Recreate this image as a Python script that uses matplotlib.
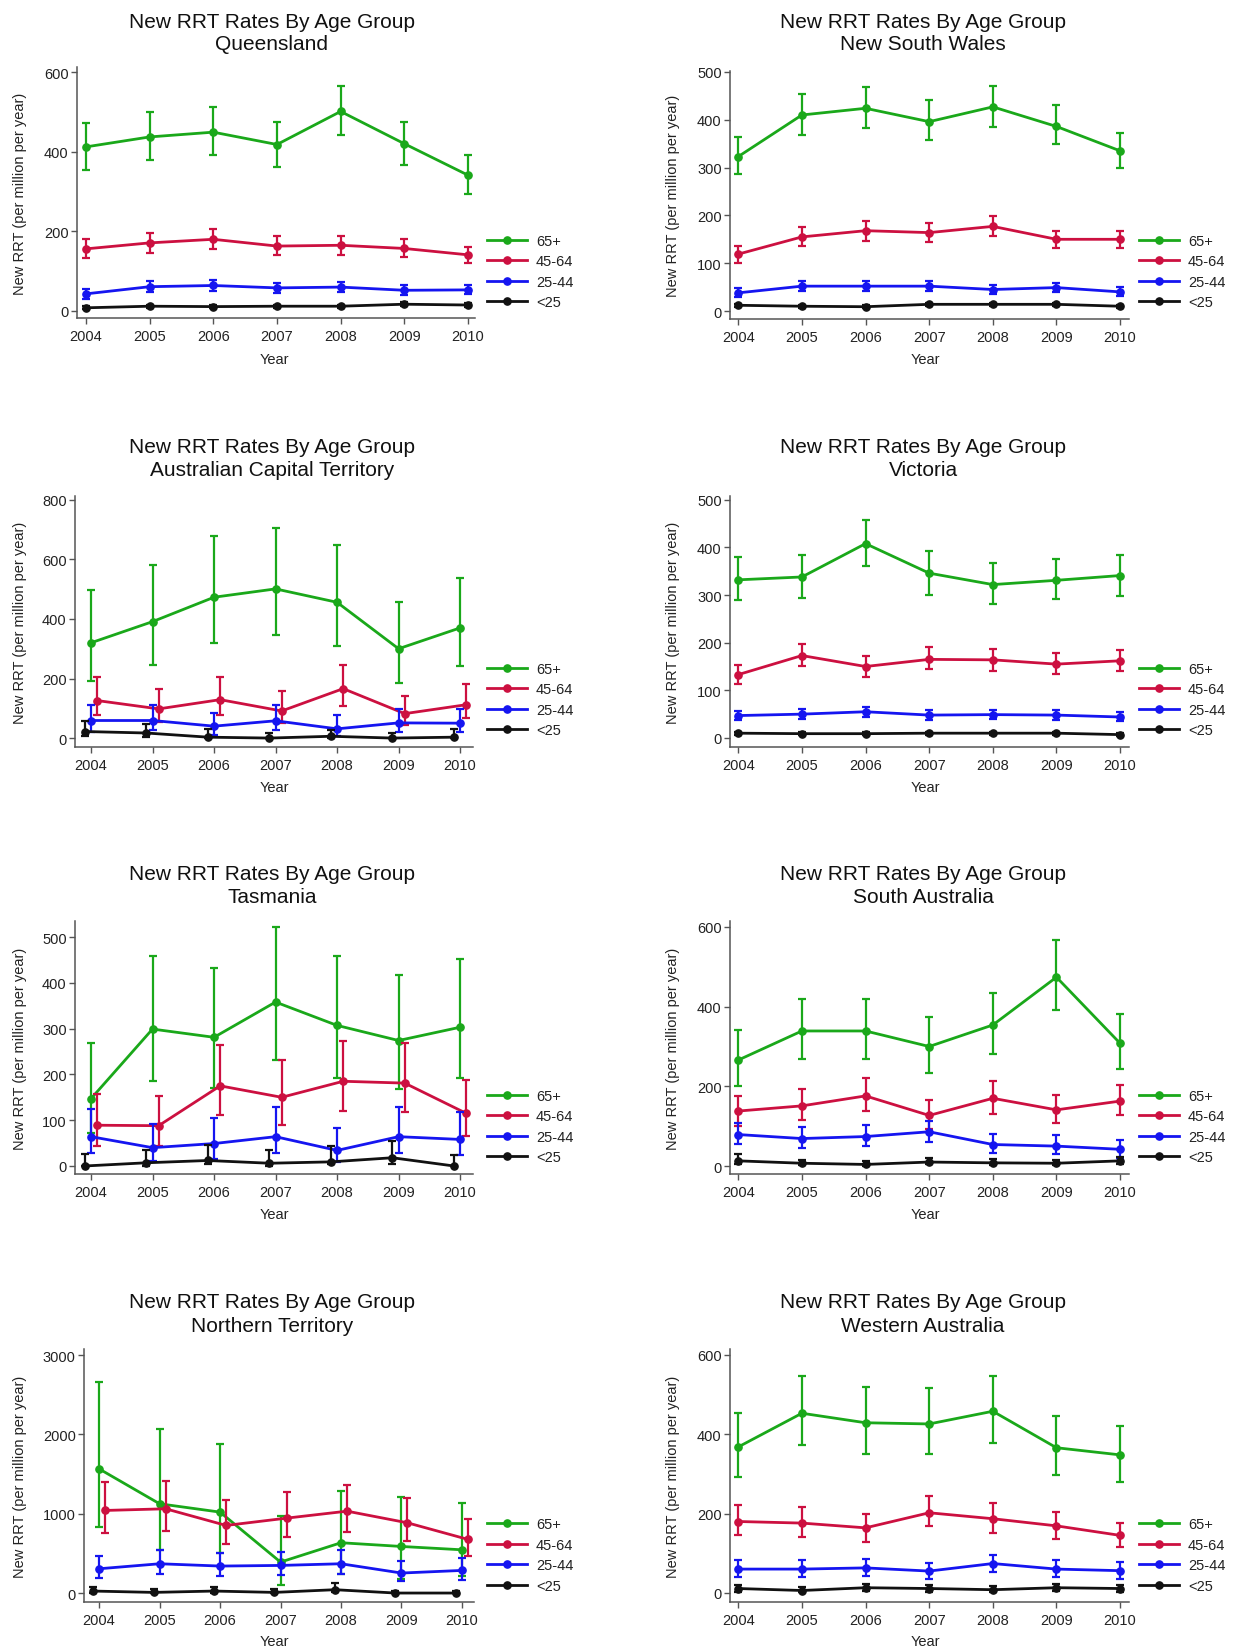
import matplotlib
matplotlib.use("Agg")
import matplotlib.pyplot as plt
from matplotlib.lines import Line2D

plt.rcParams["font.family"] = ["Liberation Sans", "DejaVu Sans"]

years = [2004, 2005, 2006, 2007, 2008, 2009, 2010]
groups = ["65+", "45-64", "25-44", "<25"]
colors = ["#1aa81a", "#cc1040", "#1515f0", "#111111"]

# rates and 95% CI per state, one row per age group (65+, 45-64, 25-44, <25)
qld_rate = [[412, 437, 449, 418, 501, 420, 341],
            [156, 171, 180, 163, 165, 157, 141],
            [43, 61, 64, 58, 60, 52, 53],
            [8, 12, 11, 12, 12, 17, 15]]
qld_lo = [[353, 379, 392, 361, 442, 367, 294],
          [133, 145, 155, 141, 141, 136, 120],
          [31, 48, 51, 46, 48, 41, 42],
          [4, 8, 7, 8, 8, 12, 11]]
qld_hi = [[471, 500, 513, 474, 564, 475, 392],
          [180, 197, 207, 188, 188, 180, 161],
          [56, 75, 78, 71, 73, 64, 65],
          [12, 16, 15, 16, 16, 22, 19]]

nsw_rate = [[323, 410, 424, 396, 427, 386, 335],
            [119, 155, 168, 164, 177, 150, 150],
            [38, 52, 52, 52, 45, 49, 40],
            [12, 10, 9, 14, 14, 14, 10]]
nsw_lo = [[287, 369, 383, 357, 385, 350, 299],
          [101, 136, 147, 145, 156, 131, 131],
          [29, 42, 42, 42, 36, 40, 31],
          [8, 7, 6, 10, 10, 10, 7]]
nsw_hi = [[364, 453, 469, 441, 471, 431, 373],
          [136, 176, 189, 185, 198, 168, 168],
          [48, 62, 62, 62, 55, 59, 50],
          [15, 13, 12, 17, 17, 17, 13]]

act_rate = [[320, 391, 473, 501, 456, 300, 370],
            [126, 98, 129, 91, 166, 82, 112],
            [59, 59, 40, 58, 31, 51, 50],
            [22, 17, 3, 0, 6, 0, 3]]
act_lo = [[191, 247, 320, 345, 308, 186, 242],
          [76, 54, 78, 51, 107, 43, 67],
          [22, 26, 11, 26, 7, 20, 20],
          [7, 3, 0, 0, 0, 0, 0]]
act_hi = [[498, 582, 677, 705, 647, 456, 537],
          [205, 166, 205, 157, 244, 141, 182],
          [110, 110, 85, 110, 76, 96, 96],
          [56, 48, 31, 18, 26, 18, 29]]

vic_rate = [[332, 338, 408, 346, 322, 331, 341],
            [133, 173, 150, 165, 164, 155, 162],
            [47, 50, 55, 48, 49, 48, 44],
            [10, 9, 9, 10, 10, 10, 7]]
vic_lo = [[289, 294, 362, 301, 282, 291, 299],
          [113, 151, 128, 144, 141, 134, 140],
          [37, 40, 45, 38, 39, 38, 35],
          [7, 6, 6, 7, 7, 7, 4]]
vic_hi = [[380, 385, 458, 392, 368, 375, 385],
          [154, 198, 173, 190, 187, 178, 185],
          [57, 60, 66, 58, 59, 58, 54],
          [13, 12, 12, 13, 13, 13, 10]]

tas_rate = [[147, 299, 281, 358, 307, 274, 303],
            [89, 88, 175, 150, 185, 181, 115],
            [64, 40, 49, 64, 34, 64, 58],
            [0, 7, 12, 6, 9, 18, 0]]
tas_lo = [[72, 185, 170, 232, 193, 169, 193],
          [44, 44, 112, 90, 119, 117, 66],
          [28, 11, 16, 28, 9, 28, 23],
          [0, 1, 4, 1, 4, 4, 0]]
tas_hi = [[269, 459, 433, 522, 459, 417, 452],
          [158, 153, 264, 231, 272, 268, 188],
          [124, 91, 104, 128, 82, 128, 117],
          [26, 34, 46, 36, 44, 55, 23]]

sa_rate = [[266, 339, 339, 300, 354, 474, 308],
           [138, 151, 176, 127, 170, 141, 163],
           [79, 69, 74, 86, 54, 50, 42],
           [13, 7, 4, 10, 8, 7, 13]]
sa_lo = [[201, 268, 268, 234, 282, 391, 243],
         [100, 115, 138, 92, 131, 107, 128],
         [56, 46, 50, 61, 32, 29, 21],
         [4, 2, 1, 4, 3, 2, 5]]
sa_hi = [[341, 420, 420, 375, 435, 567, 382],
         [177, 194, 221, 165, 213, 178, 204],
         [109, 98, 102, 113, 81, 78, 65],
         [29, 16, 12, 20, 17, 16, 23]]

nt_rate = [[1565, 1125, 1020, 390, 634, 587, 545],
           [1041, 1062, 852, 944, 1032, 885, 676],
           [306, 369, 340, 348, 369, 252, 285],
           [25, 8, 25, 8, 42, 0, 0]]
nt_lo = [[831, 537, 504, 97, 243, 180, 210],
         [760, 781, 613, 705, 768, 650, 466],
         [189, 243, 214, 231, 243, 147, 168],
         [0, 0, 0, 0, 13, 0, 0]]
nt_hi = [[2656, 2069, 1880, 969, 1292, 1208, 1133],
         [1397, 1418, 1167, 1272, 1364, 1196, 927],
         [462, 537, 508, 516, 537, 399, 441],
         [76, 55, 76, 46, 126, 25, 21]]

wa_rate = [[368, 453, 429, 426, 458, 366, 348],
           [180, 176, 164, 202, 187, 169, 145],
           [60, 60, 63, 55, 74, 60, 56],
           [11, 6, 13, 11, 8, 13, 11]]
wa_lo = [[292, 372, 351, 351, 378, 298, 279],
         [145, 141, 128, 168, 151, 137, 116],
         [39, 39, 42, 36, 53, 39, 36],
         [3, 1, 5, 3, 2, 5, 3]]
wa_hi = [[453, 546, 519, 516, 546, 446, 422],
         [221, 216, 200, 244, 227, 204, 177],
         [82, 82, 85, 76, 96, 82, 78],
         [21, 15, 23, 21, 17, 23, 21]]

W, H = 1234, 1649
fig = plt.figure(figsize=(W / 100, H / 100), dpi=100)

# (state, data, axes box l r t b in px, ylim, ytick step, xlim, jitter, column, row)
panels = [
    ("Queensland", (qld_rate, qld_lo, qld_hi), (77, 475, 68, 319), (-17.6, 612.6), 200, (2003.86, 2010.11), False, 0, 0),
    ("New South Wales", (nsw_rate, nsw_lo, nsw_hi), (730, 1129, 72, 320), (-16.7, 502), 100, (2003.87, 2010.14), False, 1, 0),
    ("Australian Capital Territory", (act_rate, act_lo, act_hi), (75, 473, 497, 748), (-30, 813), 200, (2003.74, 2010.21), True, 0, 1),
    ("Victoria", (vic_rate, vic_lo, vic_hi), (730, 1129, 497, 748), (-19, 508), 100, (2003.87, 2010.14), False, 1, 1),
    ("Tasmania", (tas_rate, tas_lo, tas_hi), (75, 473, 922, 1175), (-17.5, 535), 100, (2003.74, 2010.21), True, 0, 2),
    ("South Australia", (sa_rate, sa_lo, sa_hi), (730, 1129, 922, 1175), (-20, 615), 200, (2003.87, 2010.14), False, 1, 2),
    ("Northern Territory", (nt_rate, nt_lo, nt_hi), (84, 474, 1350, 1603), (-113, 3076), 1000, (2003.75, 2010.2), True, 0, 3),
    ("Western Australia", (wa_rate, wa_lo, wa_hi), (730, 1129, 1350, 1603), (-23, 615), 200, (2003.87, 2010.14), False, 1, 3),
]

title_y = [(22, 44), (448, 470), (875, 898), (1303, 1326)]
legend_y = [272.5, 700.5, 1127.5, 1556]
year_y = [360, 788, 1215, 1642]
col_title_x = [272, 923]
col_ylabel_x = [20, 673]
col_legend_x = [487, 1139]
col_year_x = [274, 925]

fs = 10.5
spine_col = "#555555"

for state, (rate, lo, hi), (l, r, t, b), ylim, ystep, xlim, jitter, col, row in panels:
    ax = fig.add_axes([l / W, 1 - b / H, (r - l) / W, (b - t) / H])
    offsets = [0, 0.1, 0, -0.1] if jitter else [0, 0, 0, 0]
    for k in range(4):
        xs = [y + offsets[k] for y in years]
        yerr = [[rate[k][i] - lo[k][i] for i in range(7)],
                [hi[k][i] - rate[k][i] for i in range(7)]]
        ax.errorbar(xs, rate[k], yerr=yerr, color=colors[k], lw=2.0, marker="o", ms=5.2,
                    elinewidth=1.6, capsize=3, capthick=1.6, zorder=3 + k)
    ax.set_xlim(*xlim)
    ax.set_ylim(*ylim)
    ax.set_xticks(years)
    ax.set_yticks(list(range(0, int(ylim[1]) + 1, ystep)))
    for s in ["top", "right"]:
        ax.spines[s].set_visible(False)
    for s in ["left", "bottom"]:
        ax.spines[s].set_color(spine_col)
        ax.spines[s].set_linewidth(1.1)
    ax.tick_params(axis="both", direction="out", length=4.5, width=1, color=spine_col,
                   labelsize=fs, labelcolor="#222222")
    ax.tick_params(axis="x", pad=3.5)
    ax.tick_params(axis="y", pad=1.5)
    ax.patch.set_alpha(0)

    ty1, ty2 = title_y[row]
    fig.text(col_title_x[col] / W, 1 - ty1 / H, "New RRT Rates By Age Group", ha="center", va="center",
             fontsize=15, color="#111111")
    fig.text(col_title_x[col] / W, 1 - ty2 / H, state, ha="center", va="center", fontsize=15, color="#111111")
    fig.text(col_year_x[col] / W, 1 - year_y[row] / H, "Year", ha="center", va="center", fontsize=fs,
             color="#222222")
    fig.text(col_ylabel_x[col] / W, 1 - (t + b) / 2 / H, "New RRT (per million per year)", rotation=90,
             ha="center", va="center", fontsize=fs, color="#222222")

    handles = [Line2D([0], [0], color=colors[k], lw=2.0, marker="o", ms=5.2) for k in range(4)]
    ax.legend(handles, groups, loc="center left",
              bbox_to_anchor=(col_legend_x[col] / W, 1 - legend_y[row] / H),
              bbox_transform=fig.transFigure, frameon=False, fontsize=fs,
              handlelength=2.75, handletextpad=0.6, labelspacing=0.45,
              borderpad=0, borderaxespad=0, labelcolor="#222222")

fig.savefig("out.png", dpi=100, facecolor="white")
